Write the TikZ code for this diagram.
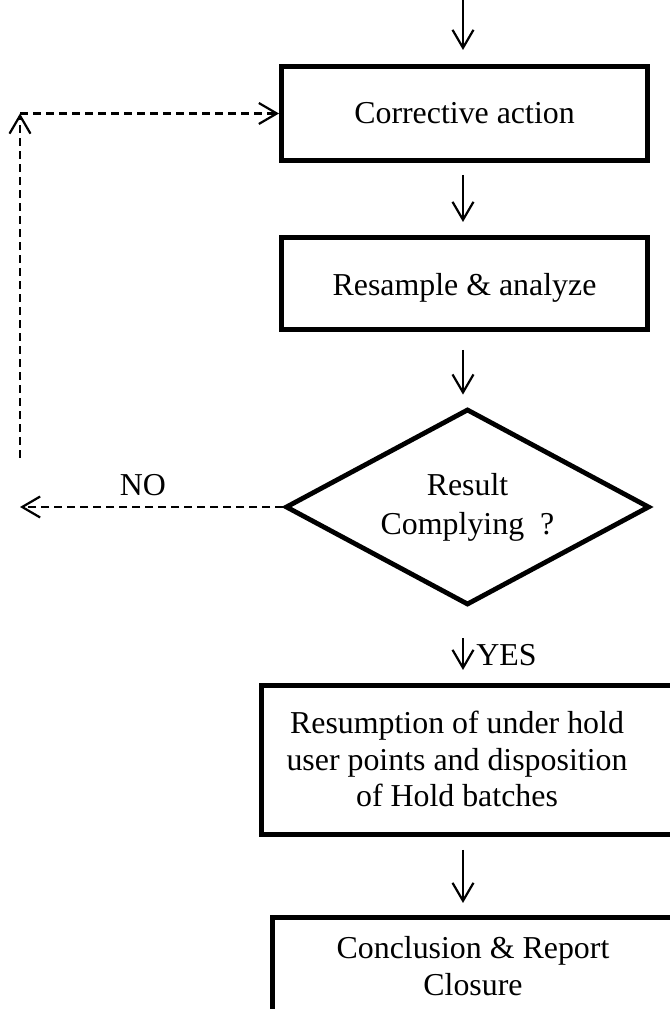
\documentclass[tikz,border=0pt]{standalone}
\usepackage{fontspec}
\setmainfont{Liberation Serif}
\usetikzlibrary{arrows.meta,shapes}

\begin{document}
\begin{tikzpicture}[>={Straight Barb[length=9bp,width=10.5bp]}, x=.5bp, y=.5bp]
      \tikzstyle{every node}=[font=\fontsize{16}{18.5}\selectfont]
      \tikzstyle{flowbox}=[draw, line width=2.5bp, inner sep=0pt]
      \tikzstyle{flowline}=[line width=1.1bp]
      \tikzstyle{backline}=[line width=1.1bp, dash pattern=on 4bp off 2.5bp]
      %%
  \useasboundingbox (0,0) rectangle (670,1009);
  \clip (0,0) rectangle (670,1009);
  \coordinate (in) at (463,1009);
  \node (box_1) at (464.5,895.5) [flowbox,minimum width=183bp,minimum height=47bp] {Corrective action};
  \node (box_2) at (464.5,725.5) [flowbox,minimum width=183bp,minimum height=46bp,text height=15bp] {Resample \& analyze};
  \node (dec_1) at (467.5,502) [diamond,draw,line width=2.4bp,inner sep=0pt,aspect=1.86,minimum width=182bp,minimum height=98bp,align=center] {Result\\[1bp]Complying~ ?};
  \node (box_3) at (490.75,249) [flowbox,minimum width=229.25bp,minimum height=74.5bp] {};
  \node (txt_3) at (457,250) [align=center] {Resumption of under hold\\user points and disposition\\of Hold batches};
  \node (box_4) at (496.25,25.25) [flowbox,minimum width=223.75bp,minimum height=66.25bp] {};
  \node (txt_4) at (473,42.5) [align=center] {Conclusion \& Report\\Closure};
  \node (lab_no) at (143,524) {NO};
  \node (lab_yes) at (476,354) [anchor=west,inner sep=0pt] {YES};
  \coordinate (corner) at (20,895.5);
  \coordinate (up_end) at (20,551);
  \coordinate (no_end) at (20,502);
  \draw [flowline,->,shorten >=7bp] (in) -- (in |- box_1.north);
  \draw [flowline,->,shorten <=6bp,shorten >=6.5bp] (box_1.south -| in) -- (box_2.north -| in);
  \draw [flowline,->,shorten <=9bp,shorten >=6bp] (box_2.south -| in) -- (dec_1.north -| in);
  \draw [flowline,->,shorten <=15.5bp,shorten >=6.5bp] (dec_1.south -| in) -- (box_3.north -| in);
  \draw [flowline,->,shorten <=6.5bp,shorten >=6bp] (box_3.south -| in) -- (box_4.north -| in);
  \draw [backline,->] (dec_1.west) -- (no_end);
  \draw [backline,->] (up_end) -- (corner);
  \draw [backline,->] (corner) -- (box_1.west);
%
\end{tikzpicture}
\end{document}
